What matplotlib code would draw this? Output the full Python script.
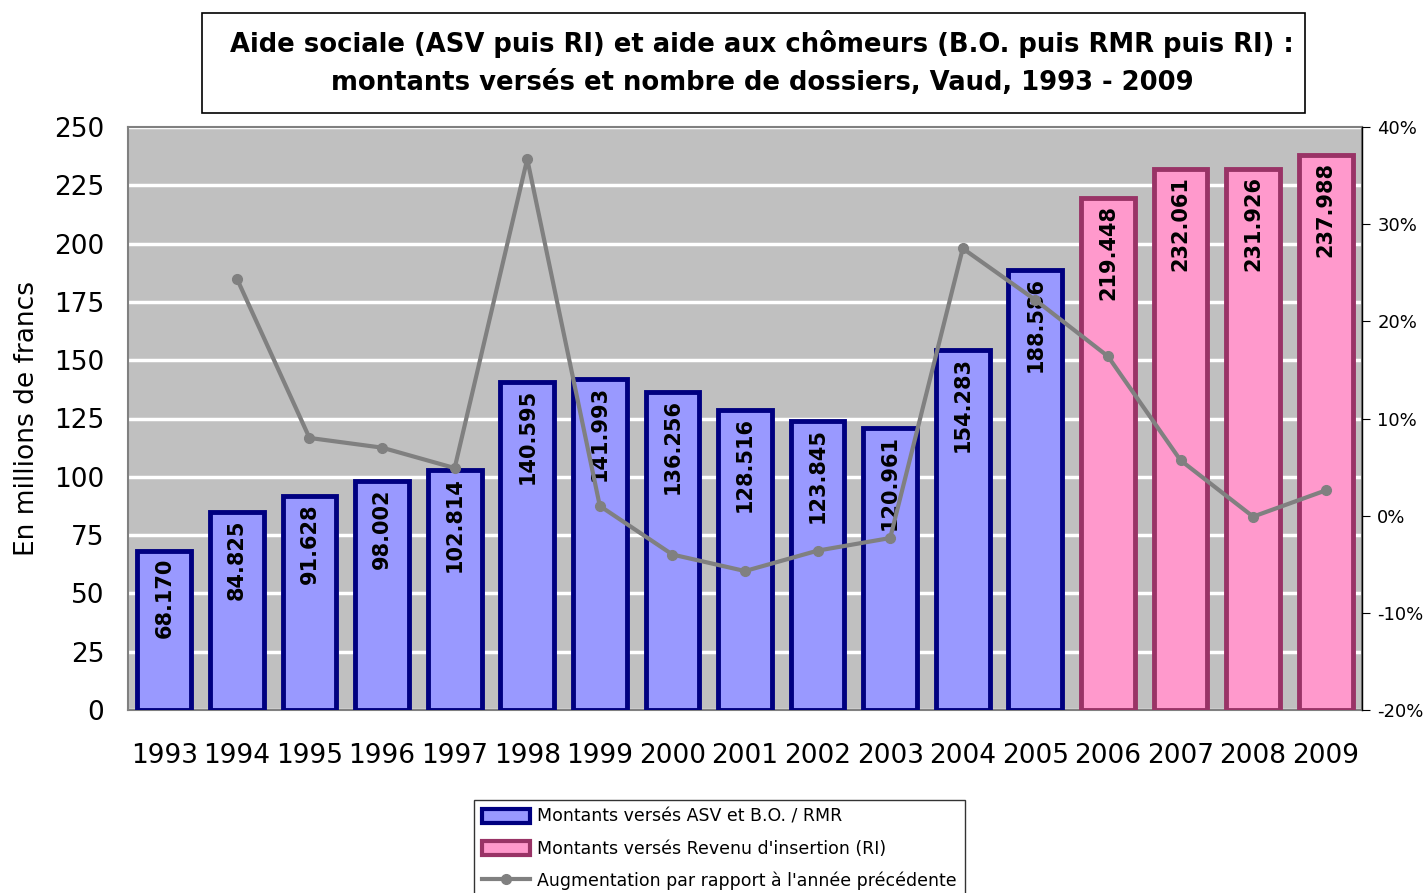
import matplotlib.pyplot as plt
from matplotlib.patches import Patch, Rectangle
from matplotlib.lines import Line2D

years = ['1993', '1994', '1995', '1996', '1997', '1998', '1999', '2000', '2001',
         '2002', '2003', '2004', '2005', '2006', '2007', '2008', '2009']
montants = [68.170, 84.825, 91.628, 98.002, 102.814, 140.595, 141.993, 136.256, 128.516,
            123.845, 120.961, 154.283, 188.586, 219.448, 232.061, 231.926, 237.988]
# True = Revenu d'insertion (RI)
is_ri = [False] * 13 + [True] * 4
augmentation = [None, 24.4, 8.0, 7.0, 4.9, 36.7, 1.0, -4.0, -5.7,
                -3.6, -2.3, 27.5, 22.2, 16.4, 5.7, -0.1, 2.6]

blue_fill, blue_edge = '#9999FF', '#000080'
pink_fill, pink_edge = '#FF99CC', '#993366'
grey = '#808080'

W, H = 1423, 893
fig = plt.figure(figsize=(W / 100, H / 100), dpi=100)
ax = fig.add_axes([128 / W, 1 - 710 / H, (1362 - 128) / W, (710 - 127) / H])
ax.set_facecolor('#C0C0C0')

x = list(range(len(years)))
fills = [pink_fill if r else blue_fill for r in is_ri]
edges = [pink_edge if r else blue_edge for r in is_ri]
bars = ax.bar(x, montants, width=0.74, color=fills, edgecolor=edges, linewidth=3.5, zorder=3)

for b, v in zip(bars, montants):
    ax.annotate(f'{v:.3f}', (b.get_x() + b.get_width() / 2, b.get_height()),
                xytext=(0, -5), textcoords='offset points', rotation=90,
                ha='center', va='top', fontsize=15, fontweight='bold', zorder=5)

ax.set_ylim(0, 250)
ax.set_xlim(-0.5, len(years) - 0.5)
ax.set_yticks(range(0, 251, 25))
ax.yaxis.grid(True, color='white', linewidth=2.5, zorder=1)
ax.set_axisbelow(True)
ax.set_xticks(x)
ax.set_xticklabels(years, fontsize=19)
ax.tick_params(axis='x', length=0, pad=24)
ax.tick_params(axis='y', labelsize=19, length=0, pad=17)
ax.set_ylabel('En millions de francs', fontsize=19, labelpad=10)
for s in ax.spines.values():
    s.set_color(grey)
    s.set_linewidth(1.5)

ax2 = ax.twinx()
xs = [i for i, a in zip(x, augmentation) if a is not None]
ys = [a for a in augmentation if a is not None]
ax2.plot(xs, ys, color=grey, linewidth=3, marker='o', markersize=7, zorder=6)
ax2.set_ylim(-20, 40)
ax2.set_yticks(range(-20, 41, 10))
ax2.set_yticklabels([f'{t}%' for t in range(-20, 41, 10)])
ax2.tick_params(axis='y', labelsize=13, length=6, color='black', pad=5)
for s in ax2.spines.values():
    s.set_visible(False)
ax2.spines['right'].set_visible(True)
ax2.spines['right'].set_color('black')
ax2.spines['right'].set_linewidth(1)

# title box
fig.patches.append(Rectangle((202 / W, 1 - 113 / H), (1305 - 202) / W, 100 / H,
                             transform=fig.transFigure, facecolor='white',
                             edgecolor='black', linewidth=1.2))
fig.text(762 / W, 1 - 63 / H,
         'Aide sociale (ASV puis RI) et aide aux chômeurs (B.O. puis RMR puis RI) :\n'
         'montants versés et nombre de dossiers, Vaud, 1993 - 2009',
         ha='center', va='center', fontsize=18.6, fontweight='bold', linespacing=1.65)

handles = [Patch(facecolor=blue_fill, edgecolor=blue_edge, linewidth=3),
           Patch(facecolor=pink_fill, edgecolor=pink_edge, linewidth=3),
           Line2D([0], [0], color=grey, linewidth=3, marker='o', markersize=7)]
labels = ['Montants versés ASV et B.O. / RMR',
          "Montants versés Revenu d'insertion (RI)",
          "Augmentation par rapport à l'année précédente"]
leg = fig.legend(handles, labels, loc='upper left', bbox_to_anchor=(474 / W, 1 - 800 / H),
                 fontsize=12.5, frameon=True, fancybox=False, edgecolor='black',
                 handlelength=2.8, handleheight=0.9, handletextpad=0.4,
                 labelspacing=0.8, borderpad=0.45, borderaxespad=0)
leg.get_frame().set_linewidth(1)

fig.savefig('out.png', dpi=100)
